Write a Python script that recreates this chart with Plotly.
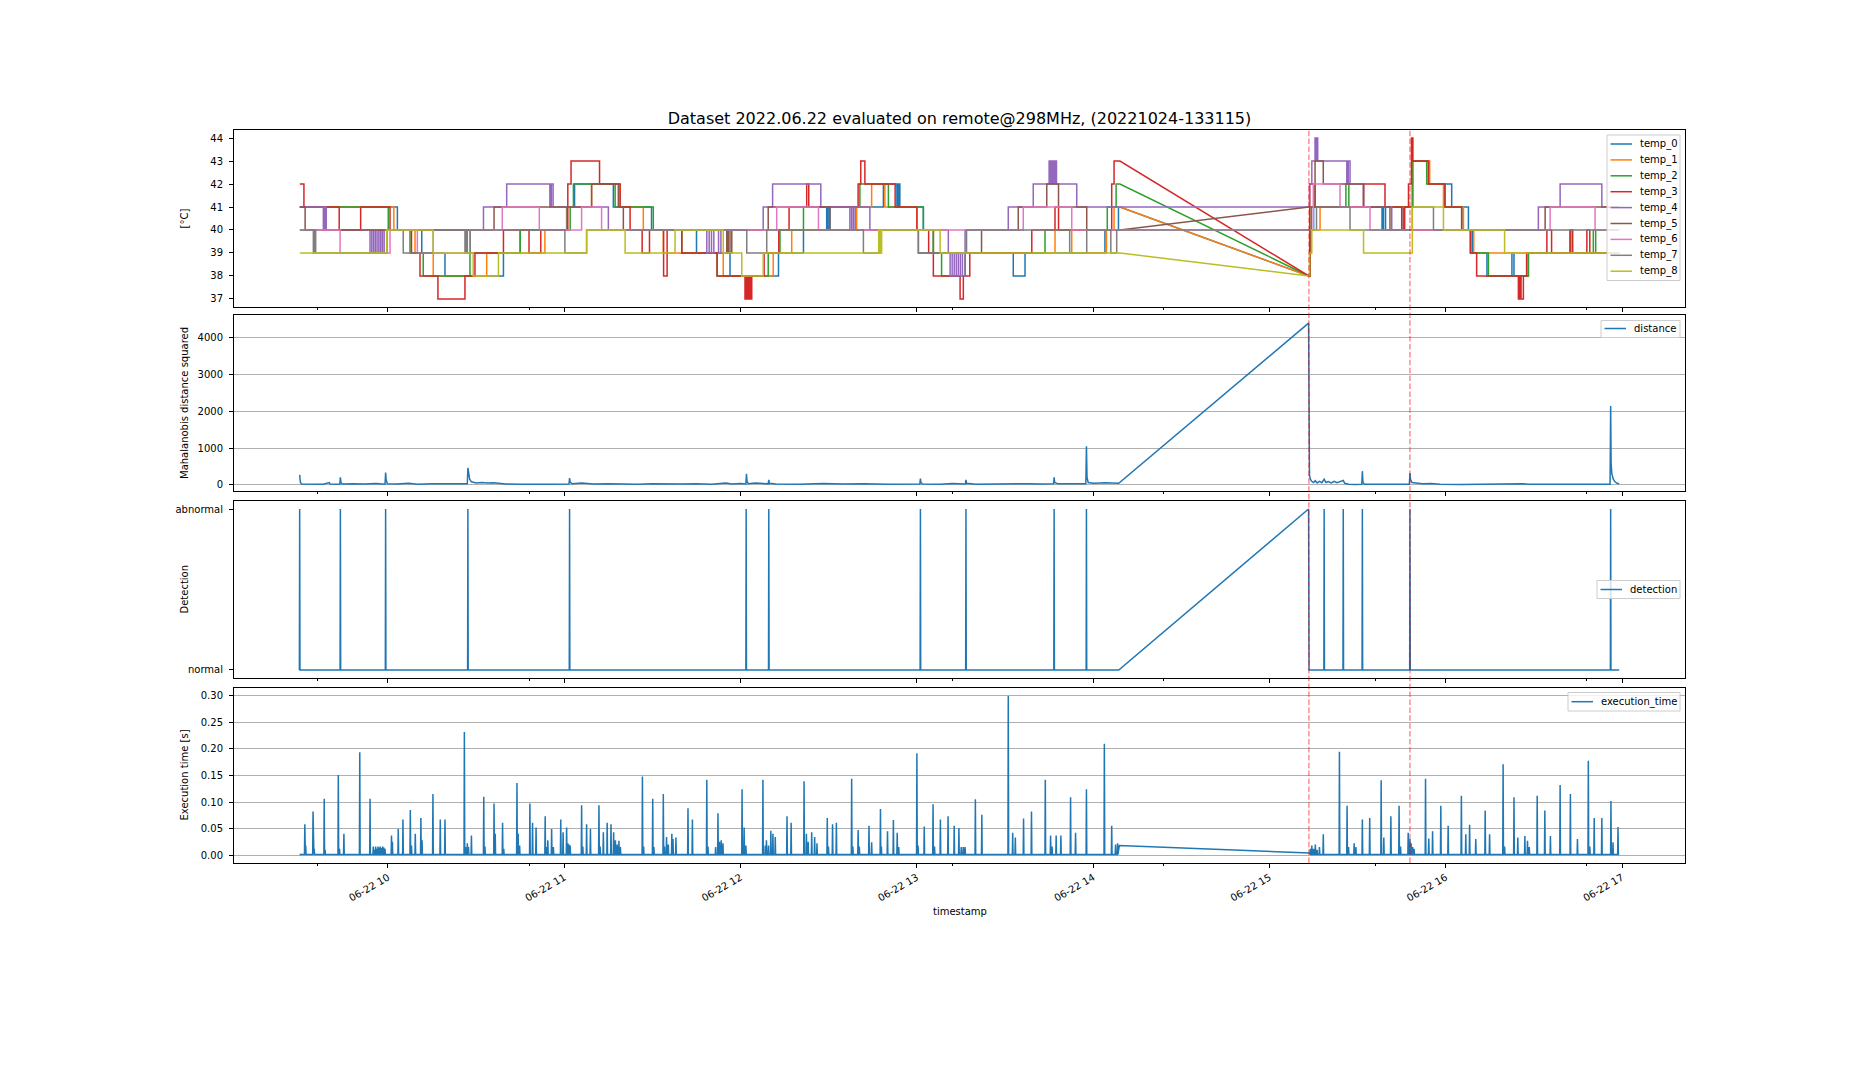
import numpy as np
import pandas as pd
import plotly.graph_objects as go

# ---------------- data (minutes after 2022-06-22 09:00) ----------------
BASE = pd.Timestamp("2022-06-22 09:00:00")
GAP_START = 309.1
GAP_END = 373.4
DATA_END = 479.0
X_RANGE = [7.6, 501.4]
ANOMALY_LINES = [373.4, 407.8]

temp_0 = [(30,41),(63.2,40),(71.5,39),(79.4,38),(99.3,39),(105,40),(120.8,41),(123.5,42),(136.7,41),(149.7,40),(165,39),(176.4,38),(192.9,39),(201.4,40),(209.3,41),(209.8,40),(210.4,41),(228.6,42),(233.2,41),(233.7,42),(234.2,41),(242.2,40),(245.6,39),(272.8,38),(276.8,39),(304.0,40),(308.6,41),(373.4,38),(373.8,40),(375.0,41),(398.3,40),(398.8,41),(399.5,40),(405.5,41),(408.6,43),(414.1,42),(422.0,41),(427.7,40),(429.0,39),(434.0,38),(442.5,39),(443.2,38),(448.1,39)]
temp_1 = [(30,41),(62.0,40),(69.2,39),(75.4,38),(93.6,39),(113.4,40),(121.0,41),(129.3,42),(139.0,41),(146.9,40),(153.7,39),(174.1,38),(191.1,39),(197.4,40),(219.5,41),(224.6,42),(229.1,41),(240.0,40),(245.6,39),(287.0,40),(292.7,39),(304.5,40),(307.1,41),(373.4,38),(373.8,40),(377.2,41),(408.6,43),(414.5,42),(419.2,41),(426.0,40),(429.5,39)]
temp_2 = [(30,41),(60.1,40),(67.5,39),(72.0,38),(87.9,39),(105.0,40),(122.0,41),(123.1,42),(137.3,41),(150.3,40),(160.0,39),(172.0,38),(189.4,39),(193.4,40),(201.4,41),(220.6,42),(230.3,41),(242.2,40),(245.6,39),(248.4,38),(256.4,39),(283.6,40),(304.8,41),(307.8,42),(373.4,38),(373.7,39),(374.2,41),(386.0,42),(387.0,41),(408.8,43),(413.5,42),(419.7,41),(425.4,40),(428.5,39),(434.5,38),(448.1,39),(462.3,40),(463.2,39),(470.2,40),(471.0,39)]
temp_3 = [(30,42),(31.4,41),(43.4,40),(50.7,41),(60.7,40),(68.0,39),(70.9,38),(77.0,37),(86.2,38),(89.6,39),(99.3,40),(108.0,39),(112.0,40),(121.2,42),(122.3,43),(132.0,42),(139.0,41),(142.4,40),(146.5,39),(149.0,40),(153.8,38),(155.0,40),(160.0,39),(172.0,38),(181.5,37),(182.0,38),(182.4,37),(182.9,38),(183.3,37),(183.8,38),(188.0,39),(193.0,40),(196.5,41),(202.5,42),(203.2,41),(220.0,42),(220.9,43),(222.3,42),(232.6,41),(240.0,40),(244.0,39),(245.6,38),(254.7,37),(255.8,38),(258.0,39),(279.1,40),(287.0,41),(288.2,40),(306.3,42),(307.1,43),(373.4,38),(373.7,42),(375.5,41),(392.0,42),(399.3,41),(405.0,40),(406.0,41),(407.3,42),(408.3,44),(408.8,43),(414.1,42),(419.7,41),(425.4,40),(428.3,39),(430.5,38),(444.7,37),(445.2,38),(445.6,37),(446.4,38),(447.5,39),(454.4,40),(456.0,39),(462.3,40),(463.0,39),(468.0,40),(469.0,39)]
temp_4 = [(30,41),(38.0,40),(38.5,41),(39.0,40),(53.9,39),(54.5,40),(55.1,39),(55.7,40),(56.3,39),(56.9,40),(57.5,39),(58.1,40),(58.7,39),(59.6,40),(92.5,41),(100.4,42),(115.1,41),(115.6,42),(116.2,41),(135.0,40),(168.5,39),(169.3,40),(170.1,39),(170.9,40),(172.5,39),(173.3,40),(187.7,41),(190.9,42),(207.3,41),(217.2,40),(217.8,41),(218.4,40),(219.0,41),(224.0,40),(250.7,39),(251.3,38),(252.0,39),(252.7,38),(253.4,39),(254.1,38),(254.8,39),(255.5,38),(256.4,40),(271.1,41),(279.6,42),(285.0,43),(285.5,42),(286.0,43),(286.5,42),(287.0,43),(287.5,42),(294.4,41),(373.4,41),(373.6,42),(374.4,43),(375.5,44),(375.8,43),(376.1,44),(376.4,43),(386.3,42),(386.8,43),(387.4,42),(392.0,41),(401.6,40),(451.5,41),(458.9,42),(473.1,41)]
temp_5 = [(30,41),(31.8,40),(96.1,41),(129.3,42),(138.4,41),(140.1,40),(175.3,39),(175.8,40),(176.4,39),(177.0,40),(189.4,41),(210.4,40),(240.5,39),(262.0,40),(274.5,41),(284.2,42),(288.2,41),(297.8,40),(373.4,41),(375.5,43),(378.3,42),(392.0,41),(401.0,40),(453.8,41)]
temp_6 = [(30,40),(43.7,39),(60.7,40),(70.0,39),(87.9,40),(98.9,41),(111.5,40),(125.9,41),(132.7,40),(192.3,41),(206.5,40),(276.2,41),(292.7,40),(373.4,40),(374.9,42),(384.0,41),(394.2,40),(455.5,41),(470.8,40)]
temp_7 = [(30,40),(34.6,39),(35.0,40),(35.4,39),(59.6,40),(65.2,39),(75.4,40),(86.2,39),(86.6,40),(87.0,39),(88.0,40),(120.2,39),(127.6,40),(182.1,39),(188.9,40),(221.8,39),(227.5,40),(240.5,39),(256.9,40),(292.0,39),(297.8,40),(306.0,39),(308.0,40),(373.4,40),(376.0,41),(387.4,40),(408.6,41),(415.8,40)]
temp_8 = [(30,39),(59.6,40),(75.4,39),(89.0,38),(97.6,39),(127.6,40),(140.7,39),(157.7,40),(174.1,39),(180.4,38),(187.7,39),(227.0,40),(227.5,39),(228.0,40),(247.9,39),(373.4,38),(373.6,39),(374.4,40),(392.0,39),(408.6,41),(419.2,40),(440.0,39)]
temps = [temp_0, temp_1, temp_2, temp_3, temp_4, temp_5, temp_6, temp_7, temp_8]
temp_names = [f"temp_{i}" for i in range(9)]
temp_colors = ["#1f77b4", "#ff7f0e", "#2ca02c", "#d62728", "#9467bd",
               "#8c564b", "#e377c2", "#7f7f7f", "#bcbd22"]

distance_samples = [(29.95,270),(30.2,60),(30.6,20),(33,15),(36,25),(38,12),(40,60),(40.3,18),(43.6,15),(43.8,200),(44.0,60),(44.4,20),(48,30),(52,18),(56,35),(59.0,15),(59.2,330),(59.4,120),(59.8,30),(63,20),(67,40),(70,15),(75,25),(80,30),(84,20),(87.0,25),(87.2,460),(87.4,380),(87.8,150),(88.4,80),(90,50),(92,60),(94,45),(96,55),(98,40),(100,20),(105,15),(110,25),(115,15),(121.6,20),(121.8,180),(122.0,70),(122.6,30),(126,45),(130,18),(135,30),(140,20),(145,15),(150,25),(155,15),(160,20),(165,30),(170,15),(175,45),(177,20),(180,35),(181.8,20),(182.0,300),(182.2,90),(182.6,30),(185,45),(189.4,25),(189.6,130),(189.8,40),(192,20),(200,15),(208,35),(215,20),(222,30),(230,15),(236,25),(241.0,20),(241.2,170),(241.4,50),(242,20),(248,15),(252,35),(256.5,20),(256.7,130),(256.9,40),(260,15),(266,25),(272,15),(278,30),(282,20),(286.5,25),(286.7,200),(286.9,60),(288,25),(292,35),(297.5,30),(297.7,1050),(297.9,200),(298.3,60),(300,40),(304,55),(308.7,40),(373.3,4400),(373.45,480),(373.6,260),(373.9,150),(374.3,100),(375,60),(375.6,110),(376.2,50),(377,90),(377.8,55),(378.6,150),(379.2,60),(380,85),(381,50),(382,95),(383,55),(384,80),(385.1,120),(385.6,40),(387,15),(389,10),(391.4,15),(391.6,370),(391.8,60),(392.3,15),(396,12),(400,20),(404,10),(407.6,15),(407.8,320),(408.0,140),(408.5,60),(410,40),(412,30),(415,35),(418,15),(425,10),(432,20),(440,12),(446,30),(448,15),(455,10),(462,20),(470,12),(475.9,15),(476.1,2140),(476.25,600),(476.5,300),(477,150),(477.6,80),(478.3,40),(479,25)]

detection_abnormal_times = [29.95, 43.8, 59.2, 87.2, 121.8, 181.9, 189.6, 241.2, 256.7, 286.7, 297.7, 378.6, 385.1, 391.6, 407.8, 476.1]
detection_gap = [(308.7, 0), (373.3, 1), (373.45, 0)]
detection_ends = [(479.0, 0)]

exec_base = 0.001
exec_ends = [(29.9, 0.001), (479.0, 0.001)]
exec_gap = [(308.9, 0.018), (373.6, 0.004)]
exec_spikes = [(31.7,.058),(32.0,.018),(34.5,.082),(34.9,.012),(38.3,.106),(38.6,.010),(43.1,.151),(43.5,.012),(45.0,.040),(50.4,.194),(53.9,.106),(55.0,.016),(55.4,.010),(55.8,.016),(56.2,.012),(56.6,.016),(57.0,.014),(57.4,.016),(57.8,.013),(58.2,.016),(58.6,.014),(59.0,.012),(61.2,.037),(61.5,.025),(63.5,.049),(65.1,.067),(67.6,.085),(68.0,.018),(69.3,.040),(71.2,.070),(71.6,.028),(75.3,.115),(77.8,.067),(79.4,.067),(86.0,.232),(86.4,.015),(87.0,.022),(87.4,.015),(88.4,.037),(92.6,.110),(93.0,.016),(96.1,.097),(96.5,.040),(99.0,.061),(99.4,.012),(103.9,.136),(104.3,.040),(104.8,.018),(108.3,.097),(109.2,.061),(110.4,.052),(113.5,.073),(113.9,.015),(114.4,.028),(115.7,.049),(116.3,.015),(118.8,.067),(119.6,.043),(120.8,.052),(121.2,.022),(121.6,.020),(122.0,.018),(125.9,.094),(126.3,.016),(127.6,.058),(128.9,.049),(131.8,.094),(132.2,.016),(133.3,.043),(134.6,.061),(135.9,.058),(136.8,.043),(137.4,.028),(138.0,.020),(138.6,.027),(139.1,.015),(146.6,.148),(147.0,.016),(150.1,.106),(150.5,.015),(153.7,.115),(154.1,.016),(154.8,.034),(155.4,.020),(156.6,.040),(157.0,.030),(158.0,.033),(162.1,.088),(163.6,.067),(168.5,.142),(168.9,.016),(171.5,.015),(172.3,.079),(172.8,.025),(173.4,.028),(174.0,.022),(180.5,.124),(181.2,.052),(181.8,.018),(187.6,.142),(188.4,.018),(188.8,.028),(189.5,.018),(190.3,.046),(191.0,.040),(191.8,.034),(195.8,.073),(197.2,.061),(201.6,.139),(202.4,.040),(203.0,.025),(204.2,.043),(205.2,.034),(206.0,.022),(209.5,.070),(209.9,.016),(211.3,.058),(212.6,.061),
               (217.8,.144),(218.2,.016),(220.0,.047),(220.4,.016),(223.7,.055),(224.6,.024),(227.6,.087),(227.9,.016),(230.0,.045),(232.0,.066),(233.3,.042),(233.8,.015),(240.0,.192),(240.4,.018),(242.5,.054),(245.5,.096),(246.0,.016),(248.0,.067),(250.6,.073),(252.7,.055),(254.3,.051),(255.1,.015),(255.8,.015),(256.4,.015),(259.9,.105),(262.1,.076),(271.1,.300),(272.6,.042),(273.5,.033),(276.3,.069),(279.0,.082),(283.7,.142),(285.5,.037),(286.0,.016),(287.4,.037),(289.0,.037),(292.3,.109),(294.0,.042),(297.7,.124),(303.8,.210),(306.3,.055),(307.6,.020),(308.3,.022),
               (373.9,.012),(374.4,.018),(375.0,.012),(375.6,.020),(376.2,.010),(377.0,.015),(378.3,.039),(383.8,.195),(386.4,.093),(386.9,.015),(388.8,.022),(389.4,.015),(391.6,.067),(394.1,.070),(398.0,.141),(398.9,.033),(401.3,.073),(404.1,.093),(404.6,.016),(407.2,.042),(407.8,.030),(408.2,.022),(408.7,.015),(409.2,.012),(413.1,.144),(414.2,.031),(415.5,.045),(418.3,.093),(420.8,.055),(425.3,.112),(426.8,.039),(428.1,.057),(430.2,.030),(433.4,.084),(434.9,.039),(439.5,.171),(440.0,.016),(443.2,.109),(444.5,.033),(446.9,.036),(447.8,.027),(448.4,.015),(451.1,.112),(453.7,.084),(455.6,.036),(458.9,.132),(462.4,.115),(464.8,.030),(468.5,.178),(469.0,.016),(470.5,.070),(473.1,.070),(476.2,.102),(476.9,.024),(478.6,.053)]

TITLE = "Dataset 2022.06.22 evaluated on remote@298MHz, (20221024-133115)"
Y_LABELS = ["[°C]", "Mahalanobis distance squared", "Detection", "Execution time [s]"]


# ---------------- helpers ----------------
def T(mins):
    return BASE + pd.to_timedelta(np.asarray(mins, dtype=float), unit="min")


def steps(changes):
    xs, ys, prev = [], [], None
    for t, v in changes:
        if prev is None:
            xs.append(t); ys.append(v)
        elif t == GAP_END:
            xs += [GAP_START, t]; ys += [prev, v]
        else:
            xs += [t, t]; ys += [prev, v]
        prev = v
    xs.append(DATA_END); ys.append(prev)
    return xs, ys


def spiky(spikes, base, half, extra):
    pts = list(extra)
    for t, v in spikes:
        pts += [(t - half, base), (t, v), (t + half, base)]
    pts.sort(key=lambda p: p[0])
    return [p[0] for p in pts], [p[1] for p in pts]


# ---------------- geometry (page pixels) ----------------
W, H = 1872, 1080
OFF = 8                      # browser body margin
PL, PR, PT, PB = 234, 1685, 130, 863   # plot area on the page
ML, MR = PL - OFF, W + OFF - PR
MT, MB = PT - OFF, H + OFF - PB
PW, PH = PR - PL, PB - PT


def pxx(x):
    return (x - PL) / PW


def pxy(y):
    return (PB - y) / PH


domains = [[pxy(307), pxy(130)], [pxy(491), pxy(315)],
           [pxy(678), pxy(501)], [pxy(863), pxy(688)]]

fig = go.Figure()
FONT = "DejaVu Sans, Arial, sans-serif"

for ch, name, col in zip(temps, temp_names, temp_colors):
    xs, ys = steps(ch)
    fig.add_trace(go.Scatter(x=T(xs), y=ys, mode="lines", name=name,
                             line=dict(color=col, width=1.5),
                             xaxis="x", yaxis="y", showlegend=False))

dx = [p[0] for p in distance_samples]
dy = [p[1] for p in distance_samples]
fig.add_trace(go.Scatter(x=T(dx), y=dy, mode="lines", name="distance",
                         line=dict(color="#1f77b4", width=1.5),
                         xaxis="x2", yaxis="y2", showlegend=False))

det_x, det_y = spiky([(t, 1) for t in detection_abnormal_times], 0, 0.1,
                     detection_gap + detection_ends)
fig.add_trace(go.Scatter(x=T(det_x), y=det_y, mode="lines", name="detection",
                         line=dict(color="#1f77b4", width=1.5),
                         xaxis="x3", yaxis="y3", showlegend=False))

ex_x, ex_y = spiky(exec_spikes, exec_base, 0.12, exec_ends + exec_gap)
fig.add_trace(go.Scatter(x=T(ex_x), y=ex_y, mode="lines", name="execution_time",
                         line=dict(color="#1f77b4", width=1.5),
                         xaxis="x4", yaxis="y4", showlegend=False))

xr = list(T(X_RANGE))
xcommon = dict(type="date", range=xr, domain=[0, 1], showline=True, mirror=True,
               linecolor="black", linewidth=1, ticks="outside", ticklen=4,
               tickwidth=1, tickcolor="black", showgrid=False, zeroline=False,
               tick0="2022-06-22 10:00:00", dtick=3600000, tickformat="%m-%d %H",
               tickfont=dict(size=10, color="black", family=FONT),
               minor=dict(ticks="outside", ticklen=2, tickwidth=0.8, tickcolor="black",
                          dtick=72 * 60000, tick0="2022-06-22 12:00:00", showgrid=False))
ycommon = dict(showline=True, mirror=True, linecolor="black", linewidth=1,
               ticks="outside", ticklen=4, tickwidth=1, tickcolor="black",
               ticklabelstandoff=4,
               zeroline=False, tickfont=dict(size=10, color="black", family=FONT),
               gridcolor="#b0b0b0", gridwidth=0.8)

layout = dict(
    width=W, height=H, autosize=False,
    margin=dict(l=ML, r=MR, t=MT, b=MB),
    paper_bgcolor="white", plot_bgcolor="white",
    font=dict(family=FONT, size=10, color="black"),
    title=dict(text=TITLE, x=0.5, xref="paper", y=1 - (118 - OFF) / H, yref="container",
               xanchor="center", yanchor="middle",
               font=dict(size=16, color="black", family=FONT)),
    showlegend=False,
)
for k in range(4):
    sx = "" if k == 0 else str(k + 1)
    xa = dict(xcommon, anchor="y" + sx, showticklabels=(k == 3))
    if k == 3:
        xa["tickangle"] = -30
    if k > 0:
        xa["matches"] = "x"
    layout["xaxis" + sx] = xa
    layout["yaxis" + sx] = dict(ycommon, anchor="x" + sx, domain=domains[k])

layout["yaxis"].update(range=[36.65, 44.35], tickvals=[37, 38, 39, 40, 41, 42, 43, 44], showgrid=False)
layout["yaxis2"].update(range=[-170, 4620], tickvals=[0, 1000, 2000, 3000, 4000], showgrid=True)
layout["yaxis3"].update(range=[-0.05, 1.05], tickvals=[0, 1], ticktext=["normal", "abnormal"], showgrid=False)
layout["yaxis4"].update(range=[-0.015, 0.315], tickvals=[0, 0.05, 0.1, 0.15, 0.2, 0.25, 0.3],
                        tickformat=".2f", showgrid=True)
fig.update_layout(**layout)

# anomaly markers spanning all panels
for t in ANOMALY_LINES:
    tt = T([t])[0]
    fig.add_shape(type="line", xref="x", yref="paper", x0=tt, x1=tt, y0=0, y1=1,
                  line=dict(color="rgba(255,0,0,0.45)", width=1.5, dash="5.5px,2.4px"),
                  layer="above")

# matplotlib-style legends (box, short handles, labels)
legend_specs = [
    # entries, box left, box top, box bottom, first entry y, entry step
    (list(zip(temp_names, temp_colors)), 1607, 135, 280.5, 144.0, 15.9),
    ([("distance", "#1f77b4")], 1601, 320.5, 337.5, 328.5, 0),
    ([("detection", "#1f77b4")], 1597, 580.5, 598.5, 589.5, 0),
    ([("execution_time", "#1f77b4")], 1568, 692.5, 711.0, 701.7, 0),
]
BOX_RIGHT = 1680
for entries, bl, bt, bb, y0, dy_ in legend_specs:
    fig.add_shape(type="rect", xref="paper", yref="paper",
                  x0=pxx(bl), x1=pxx(BOX_RIGHT), y0=pxy(bb), y1=pxy(bt),
                  line=dict(color="#cccccc", width=1),
                  fillcolor="rgba(255,255,255,0.8)", layer="above")
    for j, (nm, col) in enumerate(entries):
        yy = y0 + j * dy_
        fig.add_shape(type="line", xref="paper", yref="paper",
                      x0=pxx(bl + 3.5), x1=pxx(bl + 25), y0=pxy(yy), y1=pxy(yy),
                      line=dict(color=col, width=1.5), layer="above")
        fig.add_annotation(text=nm, xref="paper", yref="paper", x=pxx(bl + 32),
                           y=pxy(yy), showarrow=False, xanchor="left", yanchor="middle",
                           borderpad=0, font=dict(size=10, color="black", family=FONT))

for k, txt in enumerate(Y_LABELS):
    fig.add_annotation(text=txt, xref="paper", yref="paper", x=pxx(184),
                       y=(domains[k][0] + domains[k][1]) / 2, textangle=-90,
                       showarrow=False, xanchor="center", yanchor="middle",
                       font=dict(size=10, color="black", family=FONT))
fig.add_annotation(text="timestamp", xref="paper", yref="paper", x=0.5,
                   y=pxy(911), showarrow=False, xanchor="center",
                   yanchor="middle", font=dict(size=10, color="black", family=FONT))

fig.write_html("out.html")
